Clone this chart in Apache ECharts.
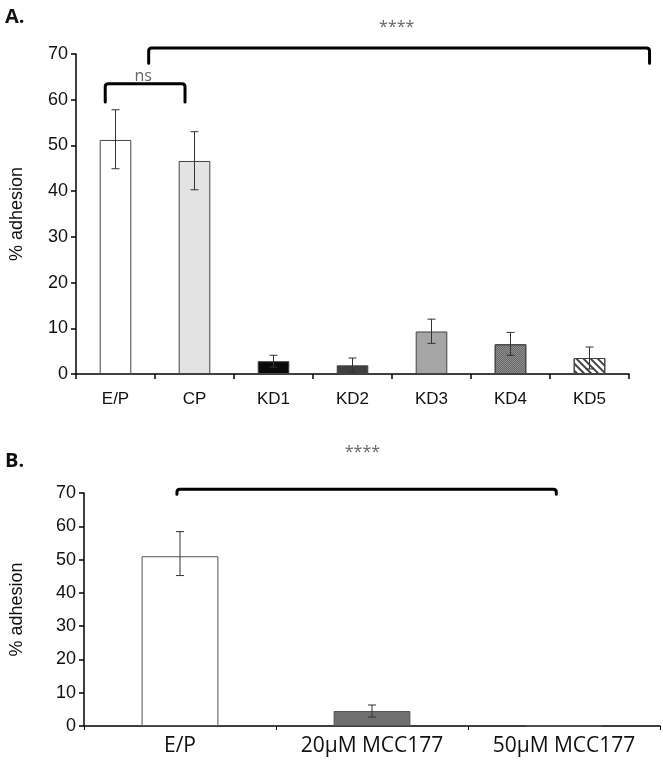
<!DOCTYPE html>
<html><head><meta charset="utf-8">
<script src="https://cdn.jsdelivr.net/npm/echarts@6/dist/echarts.min.js"></script>
<style>html,body{margin:0;padding:0;background:#fff}#c{width:663px;height:761px}</style>
</head><body><div id="c"></div>
<script>
// Panel A data
const catsA = ['E/P','CP','KD1','KD2','KD3','KD4','KD5'];
const valsA = [51.2, 46.6, 2.8, 1.9, 9.3, 6.5, 3.5];
const errLowA = [44.9, 40.3, 1.5, 0.3, 6.7, 4.1, 1.1];
const errHighA = [57.8, 53.0, 4.1, 3.5, 12.0, 9.1, 5.9];
// Panel B data
const catsB = ['E/P','20μM MCC177','50μM MCC177'];
const valsB = [51.0, 4.5, 0];
const errLowB = [45.2, 2.7, null];
const errHighB = [58.4, 6.3, null];
const yTicks = [0,10,20,30,40,50,60,70];
// Significance brackets (category-index units / % units): [xStart, xEnd, yTop, yLeg, label, labelX, labelY]
const bracketsA = [
  [-0.13, 0.88, 63.5, 59.5, 'ns', 0.35, 65.2],
  [0.42, 6.76, 71.3, 68.0, '****', 3.56, 75.9]
];
const bracketsB = [
  [-0.016, 1.96, 71.1, 69.6, '****', 0.95, 82.2]
];

const fillsA = [
  {color:'#ffffff'},
  {color:'#e3e3e3'},
  {color:'#0a0a0a'},
  {color:'#3f3f3f'},
  {color:'#a5a5a5'},
  {color:'#8e8e8e', decal:{symbol:'rect', symbolSize:1, dashArrayX:[[1,1],[0,1,1,0]], dashArrayY:[1,0], color:'rgba(60,60,60,0.45)'}},
  {color:'#ffffff', decal:{symbol:'rect', symbolSize:1, dashArrayX:[1,0], dashArrayY:[1.2,2.2], rotation:Math.PI/4, color:'#444'}}
];
const fillsB = [{color:'#ffffff'},{color:'#6f6f6f'},{color:'#ffffff'}];

const chart = echarts.init(document.getElementById('c'), null, {renderer:'canvas'});
const tickFont = 'Liberation Sans';

function errSeries(xi, yi, low, high){
  return {
    type:'custom', xAxisIndex:xi, yAxisIndex:yi, z:5,
    data: low.map((l,i)=> l==null? null : [i, l, high[i]]).filter(d=>d),
    renderItem:function(params, api){
      const p1 = api.coord([api.value(0), api.value(1)]);
      const p2 = api.coord([api.value(0), api.value(2)]);
      const w = 4;
      const st = {stroke:'#333', lineWidth:1};
      return {type:'group', children:[
        {type:'line', shape:{x1:p1[0],y1:p1[1],x2:p2[0],y2:p2[1]}, style:st},
        {type:'line', shape:{x1:p1[0]-w,y1:p1[1],x2:p1[0]+w,y2:p1[1]}, style:st},
        {type:'line', shape:{x1:p2[0]-w,y1:p2[1],x2:p2[0]+w,y2:p2[1]}, style:st}
      ]};
    }
  };
}
function bracketSeries(xi, yi, br, labelSize){
  return {
    type:'custom', xAxisIndex:xi, yAxisIndex:yi, z:6, clip:false,
    data: br.map((b,i)=>[i, b[2]]),
    renderItem:function(params, api){
      const b = br[params.dataIndex];
      const band = api.size([1,0])[0];
      const x0 = api.coord([0, 0])[0];
      const px = v => x0 + v*band;
      const py = v => api.coord([0, v])[1];
      const xa = px(b[0]), xc = px(b[1]), yt = py(b[2]), yl = py(b[3]);
      const r = 3;
      const path = 'M'+xa+' '+yl+' L'+xa+' '+(yt+r)+' Q'+xa+' '+yt+' '+(xa+r)+' '+yt+
        ' L'+(xc-r)+' '+yt+' Q'+xc+' '+yt+' '+xc+' '+(yt+r)+' L'+xc+' '+yl;
      return {type:'group', children:[
        {type:'path', shape:{pathData:path}, style:{stroke:'#000', lineWidth:3, fill:null, lineJoin:'round', lineCap:'round'}},
        {type:'text', x:px(b[5]), y:py(b[6]), style:{text:b[4], fill:'#666', font:labelSize+'px "Open Sans"', align:'center', verticalAlign:'middle'}}
      ]};
    }
  };
}

const yAxisCommon = {
  type:'value', min:0, max:70, interval:10,
  name:'% adhesion', nameLocation:'middle',
  nameTextStyle:{fontFamily:tickFont, fontSize:18, color:'#111'},
  axisLine:{show:true, lineStyle:{color:'#000', width:1.5}},
  axisTick:{show:true, length:5, lineStyle:{color:'#000', width:1.5}},
  axisLabel:{fontFamily:tickFont, fontSize:18, color:'#111', margin:8},
  splitLine:{show:false}
};

chart.setOption({
  animation:false,
  title:[
    {text:'A.', left:0, top:2, textStyle:{fontFamily:'Open Sans', fontWeight:'bold', fontSize:20, color:'#111'}},
    {text:'B.', left:0, top:446, textStyle:{fontFamily:'Open Sans', fontWeight:'bold', fontSize:20, color:'#111'}}
  ],
  grid:[
    {left:75, top:54, width:554, height:320},
    {left:83, top:493, width:577, height:233}
  ],
  xAxis:[
    {type:'category', gridIndex:0, data:catsA,
     axisLine:{lineStyle:{color:'#000', width:1.5}},
     axisTick:{show:true, length:5, lineStyle:{color:'#000', width:1.5}},
     axisLabel:{interval:0, fontFamily:tickFont, fontSize:17, color:'#111', margin:17}},
    {type:'category', gridIndex:1, data:catsB,
     axisLine:{lineStyle:{color:'#000', width:1.5}},
     axisTick:{show:true, length:4, lineStyle:{color:'#000', width:1}},
     axisLabel:{interval:0, fontFamily:'Open Sans', fontSize:21, color:'#111', margin:10}}
  ],
  yAxis:[
    Object.assign({}, yAxisCommon, {gridIndex:0, nameGap:50}),
    Object.assign({}, yAxisCommon, {gridIndex:1, nameGap:58})
  ],
  series:[
    {type:'bar', xAxisIndex:0, yAxisIndex:0, barWidth:'40%',
     data: valsA.map((v,i)=>({value:v, itemStyle:Object.assign({borderColor:'#444', borderWidth:1}, fillsA[i])}))},
    {type:'bar', xAxisIndex:1, yAxisIndex:1, barWidth:'40%',
     data: valsB.map((v,i)=>({value:v, itemStyle:Object.assign({borderColor:'#555', borderWidth:1}, fillsB[i])}))},
    errSeries(0,0,errLowA,errHighA),
    errSeries(1,1,errLowB,errHighB),
    bracketSeries(0,0,bracketsA,16),
    bracketSeries(1,1,bracketsB,16)
  ]
});
</script></body></html>
